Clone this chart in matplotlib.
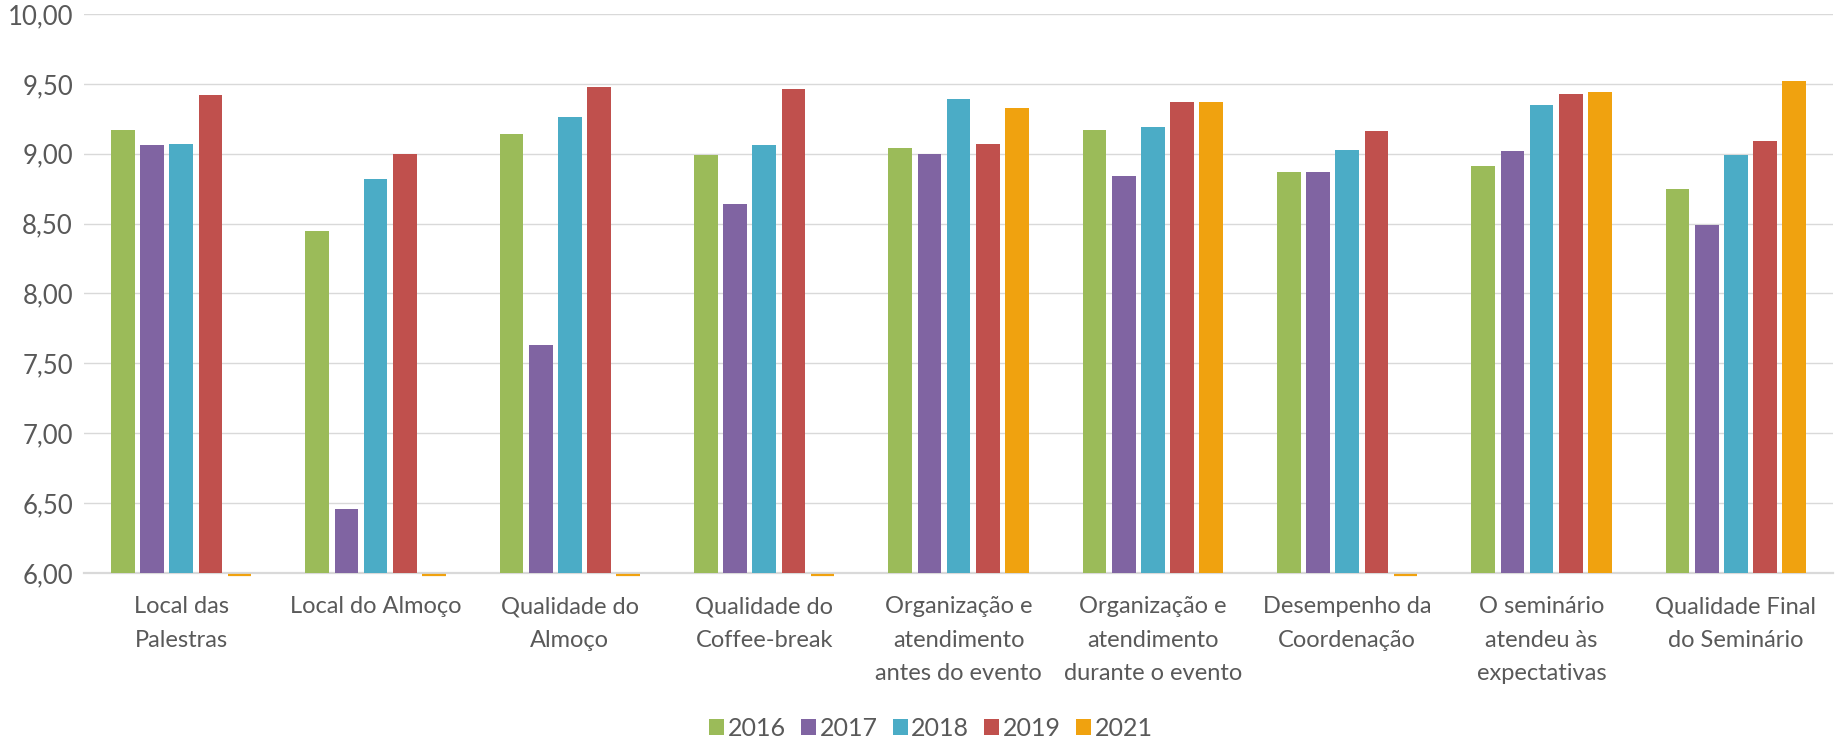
import numpy as np
import matplotlib
matplotlib.use("Agg")
import matplotlib.pyplot as plt
from matplotlib.ticker import FuncFormatter
from matplotlib.transforms import offset_copy, blended_transform_factory
from matplotlib.patches import Patch

plt.rcParams['font.family'] = ['Lato', 'DejaVu Sans']

categories = [
    "Local das\nPalestras",
    "Local do Almoço",
    "Qualidade do\nAlmoço",
    "Qualidade do\nCoffee-break",
    "Organização e\natendimento\nantes do evento",
    "Organização e\natendimento\ndurante o evento",
    "Desempenho da\nCoordenação",
    "O seminário\natendeu às\nexpectativas",
    "Qualidade Final\ndo Seminário",
]
years = ["2016", "2017", "2018", "2019", "2021"]
v2016 = [9.17, 8.45, 9.14, 8.99, 9.04, 9.17, 8.87, 8.91, 8.75]
v2017 = [9.06, 6.46, 7.63, 8.64, 9.00, 8.84, 8.87, 9.02, 8.49]
v2018 = [9.07, 8.82, 9.26, 9.06, 9.39, 9.19, 9.03, 9.35, 8.99]
v2019 = [9.42, 9.00, 9.48, 9.46, 9.07, 9.37, 9.16, 9.43, 9.09]
v2021 = [0, 0, 0, 0, 9.33, 9.37, 0, 9.44, 9.52]
series = [v2016, v2017, v2018, v2019, v2021]
colors = ["#9BBB59", "#8064A2", "#4BACC6", "#C0504D", "#F0A20F"]

ymin, ymax = 6.0, 10.0

fig = plt.figure(figsize=(18.36, 7.39), dpi=100)
ax = fig.add_axes([0.0458, 0.2246, 0.9526, 0.7565])

x = np.arange(len(categories))
pitch = 0.15
width = 0.122
below = offset_copy(ax.transData, fig=fig, y=-2, units='dots')
for i, (vals, c) in enumerate(zip(series, colors)):
    pos = x + (i - 2) * pitch
    vals = np.array(vals, dtype=float)
    ax.bar(pos, vals - ymin, bottom=ymin, width=width, color=c, zorder=3)
    # zero values show as a thin line at the axis base
    zero = vals <= ymin
    if zero.any():
        ax.hlines(np.full(zero.sum(), ymin), pos[zero] - width / 2, pos[zero] + width / 2,
                  colors=c, linewidth=1.6, transform=below, clip_on=False, zorder=4)

ax.set_xlim(-0.5, len(categories) - 0.5)
ax.set_ylim(ymin, ymax)
ax.set_yticks(np.arange(6.0, 10.01, 0.5))
ax.yaxis.set_major_formatter(FuncFormatter(lambda v, p: f"{v:.2f}".replace('.', ',')))
ax.set_xticks(x)
ax.set_xticklabels([])

# category labels drawn as text so the line spacing can match
lab_tr = offset_copy(blended_transform_factory(ax.transData, ax.transAxes),
                     fig=fig, y=-23, units='dots')
for xi, lab in zip(x, categories):
    ax.text(xi, 0, lab, transform=lab_tr, ha='center', va='top', fontsize=17,
            color='#595959', linespacing=1.74, clip_on=False)

ax.grid(axis='y', color='#d9d9d9', linewidth=1.0, zorder=0)
for s in ['top', 'right', 'left']:
    ax.spines[s].set_visible(False)
ax.spines['bottom'].set_color('#d9d9d9')
ax.spines['bottom'].set_linewidth(1.6)
ax.tick_params(axis='both', length=0, labelcolor='#595959')
ax.tick_params(axis='y', pad=8, labelsize=18.5)

handles = [Patch(facecolor=c, label=y) for y, c in zip(years, colors)]
fig.legend(handles=handles, loc='center', bbox_to_anchor=(0.507, 0.014), ncol=5,
           frameon=False, fontsize=18, labelcolor='#595959',
           handlelength=0.6, handleheight=0.6, handletextpad=0.15, columnspacing=0.6)

fig.savefig("out.png", dpi=100)
